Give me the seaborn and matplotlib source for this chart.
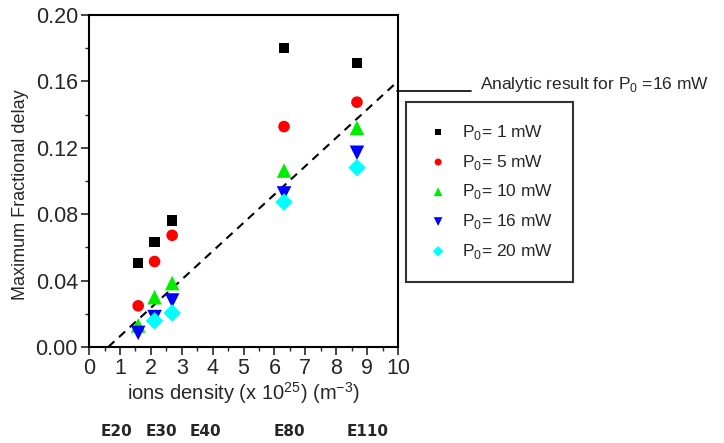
import matplotlib
matplotlib.use("Agg")
import matplotlib.pyplot as plt
import seaborn as sns
import pandas as pd
from matplotlib.ticker import MultipleLocator

sns.set_style("white")
plt.rcParams['font.family'] = ['Liberation Sans', 'DejaVu Sans']
plt.rcParams['mathtext.fontset'] = 'custom'
plt.rcParams['mathtext.rm'] = 'Liberation Sans'

# ---- data ----
density = [1.59, 2.12, 2.69, 6.31, 8.67]
p1_mw = [0.0506, 0.0632, 0.0762, 0.1803, 0.1711]
p5_mw = [0.0248, 0.0515, 0.0673, 0.1328, 0.1475]
p10_mw = [0.0130, 0.0300, 0.0385, 0.1063, 0.1320]
p16_mw = [0.0085, 0.0180, 0.0280, 0.0925, 0.1170]
density_20 = [2.12, 2.69, 6.31, 8.67]
p20_mw = [0.0157, 0.0205, 0.0873, 0.1080]

analytic_x = [0.62, 9.9]
analytic_y = [0.0, 0.1585]

series_labels = [r"P$_\mathregular{0}$= 1 mW", r"P$_\mathregular{0}$= 5 mW",
                 r"P$_\mathregular{0}$= 10 mW", r"P$_\mathregular{0}$= 16 mW",
                 r"P$_\mathregular{0}$= 20 mW"]
sample_labels = ["E20", "E30", "E40", "E80", "E110"]
xticks = list(range(0, 11))
yticks = [0.00, 0.04, 0.08, 0.12, 0.16, 0.20]

rows = []
for lab, xs, ys in zip(series_labels,
                       [density, density, density, density, density_20],
                       [p1_mw, p5_mw, p10_mw, p16_mw, p20_mw]):
    for x, y in zip(xs, ys):
        rows.append({"density": x, "delay": y, "series": lab})
df = pd.DataFrame(rows)

palette = dict(zip(series_labels, ["#000000", "#ff0000", "#00ee00", "#0000ff", "#00ffff"]))
markers = dict(zip(series_labels, ["s", "o", "^", "v", "D"]))
sizes = dict(zip(series_labels, [55, 70, 110, 110, 80]))

fig = plt.figure(figsize=(7.24, 4.43), dpi=100)
ax = fig.add_axes([0.123, 0.2167, 0.4268, 0.7494])

sns.lineplot(x=analytic_x, y=analytic_y, ax=ax, color="black", linestyle=(0, (4, 3)),
             linewidth=1.5, legend=False, zorder=1)

for lab in series_labels:
    sub = df[df["series"] == lab]
    sns.scatterplot(data=sub, x="density", y="delay", ax=ax, color=palette[lab],
                    marker=markers[lab], s=sizes[lab], edgecolor="none",
                    label=lab, zorder=3)

ax.set_xlim(0, 10)
ax.set_ylim(0, 0.20)
ax.set_xticks(xticks)
ax.set_yticks(yticks)
ax.set_yticklabels([f"{v:.2f}" for v in yticks])
ax.xaxis.set_minor_locator(MultipleLocator(0.5))
ax.yaxis.set_minor_locator(MultipleLocator(0.02))
ax.tick_params(axis="both", which="major", direction="out", length=6, width=1.2,
               labelsize=15.5, bottom=True, left=True, top=False, right=False, pad=2)
ax.tick_params(axis="both", which="minor", direction="out", length=3, width=1.0,
               bottom=True, left=True, top=False, right=False)
for sp in ax.spines.values():
    sp.set_visible(True)
    sp.set_color("black")
    sp.set_linewidth(1.5)

ax.set_xlabel(r"ions density (x 10$^\mathregular{25}$) (m$^\mathregular{-3}$)", fontsize=14.5, labelpad=1)
ax.set_ylabel("Maximum Fractional delay", fontsize=13, labelpad=6)
ax.yaxis.set_label_coords(-0.195, 0.46)

leg = ax.legend(loc="upper left", bbox_to_anchor=(406 / 724, 1 - 102 / 443), bbox_transform=fig.transFigure,
                frameon=True, fancybox=False, edgecolor="black", fontsize=12.5,
                handletextpad=0.7, labelspacing=0.62, borderpad=1.2, markerscale=0.6,
                handlelength=1.3, borderaxespad=0)
leg.get_frame().set_linewidth(1.5)

# annotation of analytic line
fig.add_artist(plt.Line2D([397 / 724, 471 / 724], [1 - 91 / 443, 1 - 91 / 443],
                          color="black", linewidth=1.2, transform=fig.transFigure))
fig.text(480 / 724, 1 - 84 / 443, r"Analytic result for P$_\mathregular{0}$ =16 mW",
         fontsize=12.5, va="center", ha="left")

# sample labels below axis
for lab, xpix in zip(sample_labels, [117, 161, 205, 289, 368]):
    fig.text(xpix / 724, 1 - 431 / 443, lab, fontsize=11, fontweight="bold",
             ha="center", va="center", family=["DejaVu Sans"])

fig.savefig("out.png", dpi=100)
